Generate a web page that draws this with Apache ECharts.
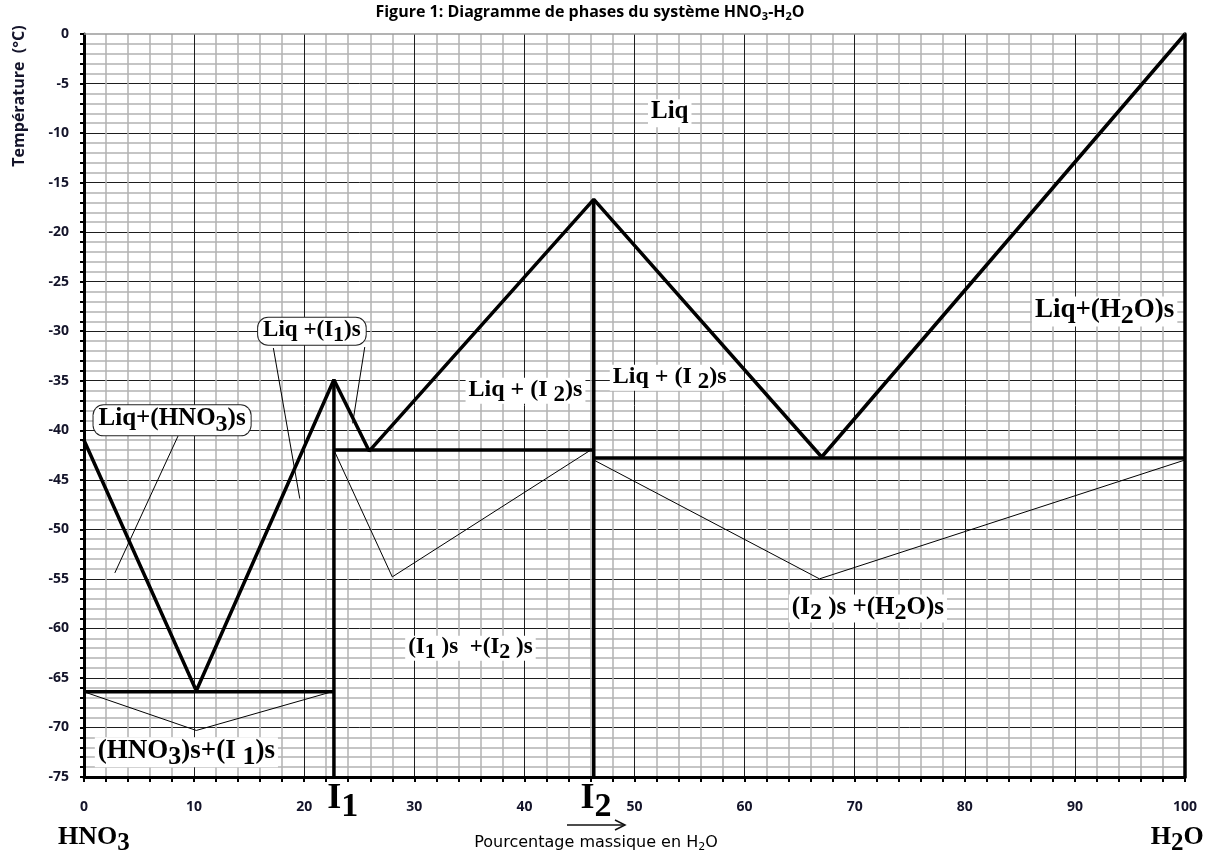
<!DOCTYPE html>
<html>
<head>
<meta charset="utf-8">
<script src="https://cdn.jsdelivr.net/npm/echarts@6/dist/echarts.min.js"></script>
<style>html,body{margin:0;padding:0;background:#fff}#c{width:1215px;height:854px}</style>
</head>
<body>
<div id="c"></div>
<script>
// ---- data ----
const xTicks = [0, 10, 20, 30, 40, 50, 60, 70, 80, 90, 100];
const yTicks = [0, -5, -10, -15, -20, -25, -30, -35, -40, -45, -50, -55, -60, -65, -70, -75];

const liquidus = [[0, -41], [10.2, -66.3], [22.7, -34.9], [25.9, -42.1], [46.3, -16.7], [67.0, -42.7], [100, 0]];
const eutectic1 = [[0, -66.4], [22.7, -66.4]];
const eutectic2 = [[22.7, -42.0], [46.3, -42.0]];
const eutectic3 = [[46.3, -42.8], [100, -42.8]];
const compoundI1 = [[22.7, -34.9], [22.7, -75]];
const compoundI2 = [[46.3, -16.7], [46.3, -75]];

const thin1 = [[0, -66.4], [10.2, -70.3], [22.5, -66.4]];
const thin2 = [[22.7, -42.0], [28.0, -54.8], [46.3, -41.8]];
const thin3 = [[46.3, -43.0], [66.8, -55.0], [100, -43.0]];

const pointer1 = [[8.7, -40.2], [2.8, -54.4]];
const pointer2 = [[17.2, -31.7], [19.6, -46.9]];
const pointer3 = [[25.5, -31.6], [24.4, -39.3]];

// region labels: [x, y, text ("_d" = subscript), font size, frame]
const regionLabels = [
  [53.2, -8.0, 'Liq', 25, 'plain'],
  [92.7, -28.0, 'Liq+(H_2O)s', 27, 'plain'],
  [20.7, -30.0, 'Liq +(I_1)s', 23, 'box'],
  [8.0, -39.0, 'Liq+(HNO_3)s', 25, 'box'],
  [40.1, -36.0, 'Liq + (I _2)s', 24, 'plain'],
  [53.2, -34.7, 'Liq + (I _2)s', 24, 'plain'],
  [35.1, -62.0, '(I_1 )s  +(I_2 )s', 23, 'plain'],
  [71.2, -58.0, '(I_2 )s +(H_2O)s', 25, 'plain'],
  [9.3, -72.5, '(HNO_3)s+(I _1)s', 27, 'plain'],
  [23.5, -77.4, 'I_1', 36, 'none'],
  [46.5, -77.4, 'I_2', 36, 'none'],
  [0.9, -81.2, 'HNO_3', 26, 'none'],
  [99.3, -81.2, 'H_2O', 26, 'none']
];

// ---- helpers ----
function richText(str) {
  let out = '';
  let buf = '';
  for (let i = 0; i < str.length; i++) {
    if (str[i] === '_' && i + 1 < str.length) {
      if (buf) { out += '{t|' + buf + '}'; buf = ''; }
      out += '{s|' + str[i + 1] + '}';
      i++;
    } else buf += str[i];
  }
  if (buf) out += '{t|' + buf + '}';
  return out;
}
function richStyles(fs) {
  const lh = Math.round(fs * 1.1);
  const off = Math.round(fs * 0.25);
  return {
    t: { fontFamily: 'Liberation Serif', fontWeight: 'bold', fontSize: fs, color: '#000', opacity: 1, lineHeight: lh, verticalAlign: 'top' },
    s: { fontFamily: 'Liberation Serif', fontWeight: 'bold', fontSize: Math.round(fs * 0.95), color: '#000', opacity: 1, lineHeight: lh, verticalAlign: 'top', padding: [off, 0, 0, 0] }
  };
}

const labelData = regionLabels.map(function (r) {
  const lab = {
    show: true,
    position: 'inside',
    color: '#000',
    opacity: 1,
    textBorderWidth: 0,
    formatter: richText(r[2]),
    rich: richStyles(r[3])
  };
  if (r[4] === 'plain') { lab.backgroundColor = '#fff'; lab.padding = [0, 3, 0, 3]; }
  if (r[4] === 'box') {
    lab.backgroundColor = '#fff'; lab.borderColor = '#222'; lab.borderWidth = 1;
    lab.borderRadius = 10; lab.padding = [1, 5, 1, 5];
  }
  return { value: [r[0], r[1]], label: lab };
});

function lineSeries(data, w) {
  return {
    type: 'line', data: data, showSymbol: false, symbol: 'none', silent: true,
    lineStyle: { color: '#000', width: w }, z: 3, animation: false
  };
}

const chart = echarts.init(document.getElementById('c'), null, { renderer: 'canvas' });
const axisLabelStyle = { fontFamily: 'Open Sans', fontWeight: 'bold', fontSize: 14, color: '#14142a' };

chart.setOption({
  animation: false,
  backgroundColor: '#fff',
  grid: { left: 84, right: 30, top: 34, bottom: 77, containLabel: false },
  xAxis: {
    type: 'value', min: 0, max: 100, interval: 10,
    axisLine: { onZero: false, lineStyle: { color: '#000', width: 3 } },
    axisTick: { show: true, length: 5, lineStyle: { color: '#000', width: 2 } },
    minorTick: { show: true, splitNumber: 5, length: 5, lineStyle: { color: '#000', width: 2 } },
    splitLine: { show: true, lineStyle: { color: '#1e1e1e', width: 1 } },
    minorSplitLine: { show: true, lineStyle: { color: '#b3b3b3', width: 1.5 } },
    axisLabel: Object.assign({ margin: 23, formatter: function (v) { return xTicks.indexOf(v) >= 0 ? String(v) : ''; } }, axisLabelStyle)
  },
  yAxis: [{
    type: 'value', min: -75, max: 0, interval: 5,
    axisLine: { show: true, onZero: false, lineStyle: { color: '#000', width: 3 } },
    axisTick: { show: true, length: 4, lineStyle: { color: '#000', width: 2 } },
    minorTick: { show: true, splitNumber: 5, length: 4, lineStyle: { color: '#000', width: 2 } },
    splitLine: { show: true, showMaxLine: false, lineStyle: { color: '#1e1e1e', width: 1 } },
    minorSplitLine: { show: true, lineStyle: { color: '#b3b3b3', width: 1.5 } },
    axisLabel: Object.assign({ margin: 15, formatter: function (v) { return yTicks.indexOf(v) >= 0 ? String(v) : ''; } }, axisLabelStyle)
  }, {
    type: 'value', min: -75, max: 0, position: 'right',
    axisLine: { show: true, onZero: false, lineStyle: { color: '#000', width: 3.5 } },
    axisTick: { show: false }, axisLabel: { show: false }, splitLine: { show: false }
  }],
  series: [
    lineSeries(thin1, 1), lineSeries(thin2, 1), lineSeries(thin3, 1),
    lineSeries(pointer1, 1), lineSeries(pointer2, 1), lineSeries(pointer3, 1),
    lineSeries(liquidus, 3.5),
    lineSeries(eutectic1, 3.5), lineSeries(eutectic2, 3.5), lineSeries(eutectic3, 3.5),
    lineSeries(compoundI1, 3.5), lineSeries(compoundI2, 3.5),
    {
      type: 'scatter', data: labelData, symbolSize: 0, clip: false, silent: true, z: 10,
      itemStyle: { opacity: 1, color: '#000' },
      animation: false
    }
  ],
  graphic: [
    {
      type: 'line', z: 1, shape: { x1: 84, y1: 34, x2: 1185, y2: 34 },
      style: { stroke: '#9a9a9a', lineWidth: 1.5 }
    },
    {
      type: 'text', x: 590, y: 14, z: 20,
      style: {
        text: '{b|Figure 1: Diagramme de phases du système HNO}{s|3}{b|-H}{s|2}{b|O}',
        align: 'center', verticalAlign: 'middle',
        rich: {
          b: { fontFamily: 'Open Sans', fontWeight: 'bold', fontSize: 16, color: '#14142a', lineHeight: 20, verticalAlign: 'top' },
          s: { fontFamily: 'Open Sans', fontWeight: 'bold', fontSize: 11, color: '#14142a', lineHeight: 20, verticalAlign: 'top', padding: [7, 0, 0, 0] }
        }
      }
    },
    {
      type: 'text', x: 19, y: 96, rotation: Math.PI / 2, z: 20,
      style: {
        text: 'Température  (°C)', align: 'center', verticalAlign: 'middle',
        fontFamily: 'Open Sans', fontWeight: 'bold', fontSize: 16, fill: '#14142a'
      }
    },
    {
      type: 'text', x: 596, y: 845, z: 20,
      style: {
        text: '{a|Pourcentage massique en H}{s|2}{a|O}', align: 'center', verticalAlign: 'middle',
        rich: {
          a: { fontFamily: 'DejaVu Sans', fontSize: 16, color: '#14142a', lineHeight: 20, verticalAlign: 'top' },
          s: { fontFamily: 'DejaVu Sans', fontSize: 11, color: '#14142a', lineHeight: 20, verticalAlign: 'top', padding: [7, 0, 0, 0] }
        }
      }
    },
    {
      type: 'line', z: 20, shape: { x1: 567, y1: 825, x2: 625, y2: 825 },
      style: { stroke: '#111', lineWidth: 1.5 }
    },
    {
      type: 'polyline', z: 20, shape: { points: [[615, 820], [625, 825], [615, 830]] },
      style: { stroke: '#111', lineWidth: 1.5, fill: null }
    }
  ]
});
</script>
</body>
</html>
